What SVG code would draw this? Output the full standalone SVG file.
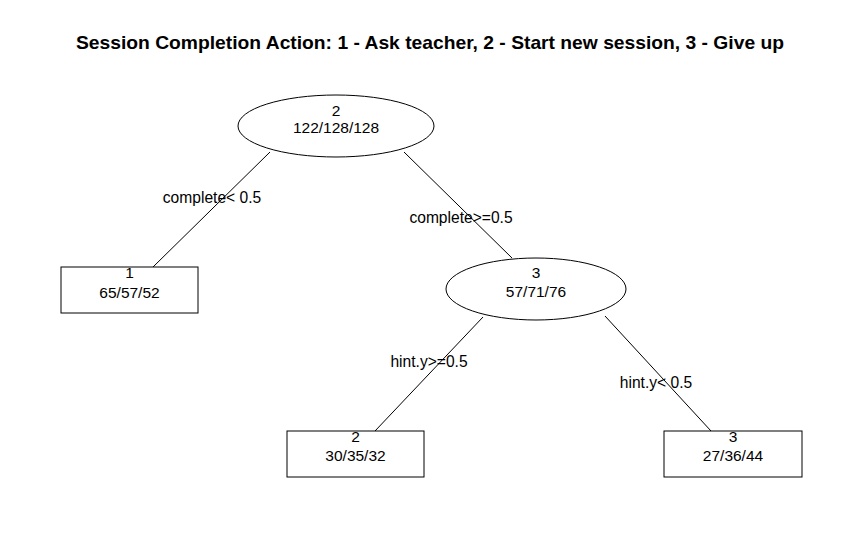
<svg xmlns="http://www.w3.org/2000/svg" width="862" height="543" viewBox="0 0 862 543">
<style>
text{font-family:"Liberation Sans",Arial,sans-serif;fill:#000}
.t{font-size:19px;font-weight:bold;text-anchor:middle}
.n{font-size:15.5px;text-anchor:middle}
.l{font-size:15.6px;text-anchor:middle}
.s{fill:#fff;stroke:#000;stroke-width:1}
.c line{stroke:#000;stroke-width:1}
</style>
<rect width="862" height="543" fill="#fff"/>
<text class="t" x="430" y="49" textLength="708" lengthAdjust="spacingAndGlyphs">Session Completion Action: 1 - Ask teacher, 2 - Start new session, 3 - Give up</text>
<g id="connectors" class="c">
<line x1="270" y1="152" x2="153" y2="267"/>
<line x1="404" y1="152" x2="512" y2="258"/>
<line x1="483" y1="317" x2="375" y2="431"/>
<line x1="605" y1="316" x2="711" y2="431"/>
</g>
<g id="edge-labels">
<text class="l" x="212" y="203">complete&lt; 0.5</text>
<text class="l" x="461" y="223">complete&gt;=0.5</text>
<text class="l" x="429" y="367">hint.y&gt;=0.5</text>
<text class="l" x="656" y="388">hint.y&lt; 0.5</text>
</g>
<g id="node-root">
<ellipse class="s" cx="336" cy="126" rx="98" ry="31"/>
<text class="n" x="336" y="116">2</text>
<text class="n" x="336" y="133">122/128/128</text>
</g>
<g id="node-1">
<rect class="s" x="61" y="267" width="137" height="46"/>
<text class="n" x="129.5" y="278">1</text>
<text class="n" x="129.5" y="298">65/57/52</text>
</g>
<g id="node-mid">
<ellipse class="s" cx="536" cy="289" rx="90" ry="31"/>
<text class="n" x="536" y="278">3</text>
<text class="n" x="536" y="297">57/71/76</text>
</g>
<g id="node-2">
<rect class="s" x="287" y="431" width="137" height="46"/>
<text class="n" x="355.5" y="442">2</text>
<text class="n" x="355.5" y="461">30/35/32</text>
</g>
<g id="node-3">
<rect class="s" x="664" y="431" width="138" height="46"/>
<text class="n" x="733" y="442">3</text>
<text class="n" x="733" y="461">27/36/44</text>
</g>
</svg>
